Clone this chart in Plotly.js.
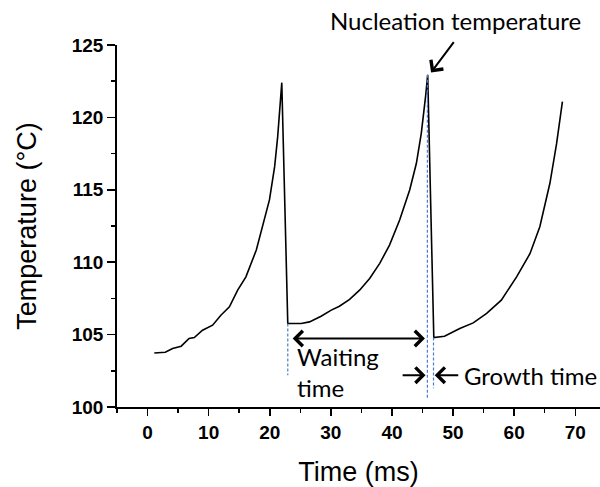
<!DOCTYPE html>
<html><head><meta charset="utf-8">
<script src="https://cdn.plot.ly/plotly-3.0.1.min.js"></script>
<style>html,body{margin:0;padding:0;background:#fff}#chart{width:600px;height:487px}</style>
</head><body><div id="chart"></div>
<script>
// Time (ms)
var timeMs = [1.1, 2.9, 4.1, 5.5, 6.8, 7.65, 9.0, 10.65, 12.0, 13.4, 14.75, 16.1, 17.8, 18.85, 19.95, 20.8, 21.3, 21.97,
  22.95, 25.15, 26.5, 28.4, 30.07, 31.4, 33.07, 34.7, 36.35, 38.0, 39.6, 41.26, 42.9, 44.0, 44.8, 45.5, 45.85,
  46.85, 48.6, 51.1, 53.3, 55.5, 57.9, 60.4, 62.6, 64.2, 65.85, 66.95, 67.9];
// Temperature (°C)
var tempC = [103.73, 103.78, 104.04, 104.2, 104.73, 104.8, 105.3, 105.65, 106.34, 106.92, 108.07, 108.99, 110.84, 112.45, 114.3, 116.6, 118.67, 122.4,
  105.77, 105.77, 105.88, 106.27, 106.69, 106.96, 107.43, 108.07, 108.88, 109.92, 111.18, 112.91, 114.99, 116.83, 118.9, 121.44, 122.94,
  104.8, 104.89, 105.42, 105.81, 106.46, 107.38, 108.99, 110.6, 112.45, 115.45, 118.2, 121.09];
// dashed marker lines: x, top, bottom
var markX = [22.95, 45.8, 46.8];
var markTop = [105.77, 122.94, 104.8];
var markBottom = [102.2, 100.6, 101.3];
var xTicks = [0, 10, 20, 30, 40, 50, 60, 70];
var yTicks = [100, 105, 110, 115, 120, 125];

var annFont = {family: 'Lato, "Open Sans", sans-serif', size: 24, color: '#000'};
var axFont = 'Arial, "Liberation Sans", sans-serif';

var traces = [{
  x: timeMs, y: tempC, mode: 'lines', type: 'scatter',
  line: {color: '#000', width: 1.6}, hoverinfo: 'none', showlegend: false
}];
for (var i = 0; i < markX.length; i++) {
  traces.push({x: [markX[i], markX[i]], y: [markTop[i], markBottom[i]], mode: 'lines', type: 'scatter',
    line: {color: '#4a7cc9', width: 1.2, dash: '3px,2px'}, showlegend: false, hoverinfo: 'none'});
}

var arrowBase = {showarrow: true, arrowhead: 4, arrowsize: 1.5, arrowwidth: 2, arrowcolor: '#000',
  xref: 'x', yref: 'y', axref: 'x', ayref: 'y', text: ''};
function arr(o) { var r = {}; for (var k in arrowBase) r[k] = arrowBase[k]; for (var k2 in o) r[k2] = o[k2]; return r; }

var annotations = [
  {x: 0.6998, y: 1.069, xref: 'paper', yref: 'paper', text: 'Nucleation temperature', showarrow: false, font: annFont, xanchor: 'center', yanchor: 'middle'},
  arr({x: 46.4, y: 123.1, ax: 50.3, ay: 125.3}),
  arr({x: 45.4, y: 104.73, ax: 23.5, ay: 104.73, arrowside: 'end+start', startarrowhead: 4, startarrowsize: 1.5}),
  {x: 24.1, y: 102.4, xref: 'x', yref: 'y', text: 'Waiting<br>time', showarrow: false, font: annFont, xanchor: 'left', yanchor: 'middle', align: 'left'},
  arr({x: 45.5, y: 102.2, ax: 41.5, ay: 102.2}),
  arr({x: 47.0, y: 102.2, ax: 51.1, ay: 102.2}),
  {x: 51.4, y: 102.2, xref: 'x', yref: 'y', text: 'Growth time', showarrow: false, font: annFont, xanchor: 'left', yanchor: 'middle'}
];

var layout = {
  width: 600, height: 487,
  margin: {l: 117, r: 0, t: 45, b: 80.3, pad: 0},
  paper_bgcolor: '#fff', plot_bgcolor: '#fff',
  showlegend: false,
  xaxis: {
    range: [-5, 74.05], tickvals: xTicks, ticktext: xTicks.map(String),
    ticks: 'outside', ticklen: 7, tickwidth: 1.5, tickcolor: '#000',
    showline: true, linecolor: '#000', linewidth: 1.8, showgrid: false, zeroline: false,
    minor: {dtick: 5, tick0: -5, ticks: 'outside', ticklen: 4, tickwidth: 1.5, tickcolor: '#000'},
    tickfont: {family: axFont, size: 19, color: '#000', weight: 700},
    title: {text: 'Time (ms)', font: {family: axFont, size: 27, color: '#000'}, standoff: 22}
  },
  yaxis: {
    range: [100, 125], tickvals: yTicks, ticktext: yTicks.map(String),
    ticks: 'outside', ticklen: 8, tickwidth: 1.5, tickcolor: '#000',
    showline: true, linecolor: '#000', linewidth: 1.8, showgrid: false, zeroline: false,
    minor: {dtick: 2.5, tick0: 100, ticks: 'outside', ticklen: 4, tickwidth: 1.5, tickcolor: '#000'},
    tickfont: {family: axFont, size: 19, color: '#000', weight: 700},
    title: {text: 'Temperature (°C)', font: {family: axFont, size: 27, color: '#000'}, standoff: 27}
  },
  annotations: annotations
};

Plotly.newPlot('chart', traces, layout, {staticPlot: true, displayModeBar: false});
</script></body></html>
